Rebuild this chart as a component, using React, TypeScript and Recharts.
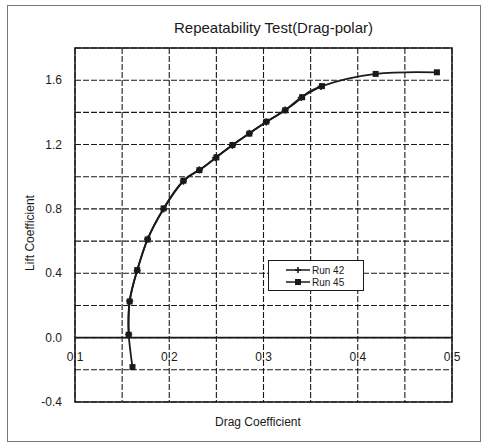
import { CartesianGrid, Line, LineChart, ReferenceArea, ReferenceLine, XAxis, YAxis } from "recharts";

// drag polar
const RUN42_CD = [0.157, 0.158, 0.166, 0.177, 0.194, 0.215, 0.232, 0.249, 0.267, 0.285, 0.303, 0.323, 0.340, 0.361];
const RUN42_CL = [0.02, 0.228, 0.417, 0.612, 0.8, 0.972, 1.043, 1.118, 1.195, 1.27, 1.34, 1.415, 1.492, 1.561];

const RUN45_CD = [0.161, 0.157, 0.158, 0.166, 0.177, 0.194, 0.215, 0.232, 0.25, 0.267, 0.285, 0.303, 0.323, 0.341, 0.362, 0.419, 0.484];
const RUN45_CL = [-0.183, 0.018, 0.225, 0.42, 0.61, 0.803, 0.975, 1.041, 1.12, 1.197, 1.268, 1.342, 1.413, 1.494, 1.563, 1.639, 1.649];

const X_TICKS = [0.1, 0.15, 0.2, 0.25, 0.3, 0.35, 0.4, 0.45, 0.5];
const Y_TICKS = [-0.4, -0.2, 0, 0.2, 0.4, 0.6, 0.8, 1.0, 1.2, 1.4, 1.6, 1.8];

const run42 = RUN42_CD.map((cd, i) => ({ cd, cl: RUN42_CL[i] }));
const run45 = RUN45_CD.map((cd, i) => ({ cd, cl: RUN45_CL[i] }));

const W = 481;
const H = 442;
const M = { top: 48, right: 29, bottom: 10, left: 35 };
const PLOT_H = H - M.top - M.bottom - 30;
const FONT = "'Liberation Sans', Arial, sans-serif";
const INK = "#1a1a1a";

function XTick({ x, y, payload }: any) {
  const v = payload.value;
  if (Math.abs(v * 10 - Math.round(v * 10)) > 1e-6) return null;
  // labels sit just under the CL = 0 line, not at the bottom of the frame
  const zeroUp = (PLOT_H * 0.4) / 2.2;
  return (
    <text x={x} y={y - zeroUp + 23} textAnchor="middle" fontSize={12} fontFamily={FONT} fill={INK}>
      {v.toFixed(1)}
    </text>
  );
}

function YTick({ x, y, payload }: any) {
  const v = payload.value;
  if (Math.round(v * 10) % 4 !== 0) return null;
  return (
    <text x={x} y={y + 4} textAnchor="end" fontSize={12} fontFamily={FONT} fill={INK}>
      {v.toFixed(1)}
    </text>
  );
}

const squareDot = (props: any) => {
  const { cx, cy, key } = props;
  return <rect key={key} x={cx - 3} y={cy - 3} width={6} height={6} fill={INK} />;
};

const crossDot = (props: any) => {
  const { cx, cy, key } = props;
  return (
    <g key={key}>
      <line x1={cx - 3.5} y1={cy} x2={cx + 3.5} y2={cy} stroke={INK} strokeWidth={1.6} />
      <line x1={cx} y1={cy - 3.5} x2={cx} y2={cy + 3.5} stroke={INK} strokeWidth={1.6} />
    </g>
  );
};

export default function App() {
  return (
    <div style={{ position: "absolute", left: 0, top: 0, width: W, height: H, background: "#fff", fontFamily: FONT }}>
      <div style={{ position: "absolute", left: 7, top: 5, width: 472, height: 435, border: "1px solid #777" }} />
      <div style={{ position: "absolute", left: 0, width: W, top: 19, textAlign: "center", paddingLeft: 66, boxSizing: "border-box", fontSize: 15, color: INK }}>
        Repeatability Test(Drag-polar)
      </div>
      <LineChart width={W} height={H} margin={M} style={{ position: "absolute", left: 0, top: 0 }}>
        <CartesianGrid stroke={INK} strokeDasharray="6 2" strokeWidth={1.1} />
        <XAxis
          type="number"
          dataKey="cd"
          domain={[0.1, 0.5]}
          ticks={X_TICKS}
          height={30}
          axisLine={false}
          tickLine={false}
          tickSize={0}
          tickMargin={0}
          tick={<XTick />}
          allowDuplicatedCategory={false}
        />
        <YAxis
          type="number"
          dataKey="cl"
          domain={[-0.4, 1.8]}
          ticks={Y_TICKS}
          width={40}
          axisLine={false}
          tickLine={false}
          tickSize={0}
          tickMargin={13}
          tick={<YTick />}
        />
        <ReferenceArea x1={0.1} x2={0.5} y1={-0.4} y2={1.8} fill="none" fillOpacity={0} stroke={INK} strokeWidth={1.5} />
        <ReferenceLine y={0} stroke={INK} strokeWidth={1.6} />
        <Line data={run45} dataKey="cl" type="natural" stroke={INK} strokeWidth={1.8} dot={squareDot} isAnimationActive={false} />
        <Line data={run42} dataKey="cl" type="natural" stroke={INK} strokeWidth={1.8} dot={crossDot} isAnimationActive={false} />
      </LineChart>
      <div
        style={{
          position: "absolute",
          left: 12,
          top: 233,
          transform: "translate(-50%, -50%) rotate(-90deg)",
          transformOrigin: "center",
          marginLeft: 18,
          fontSize: 12,
          color: INK,
          whiteSpace: "nowrap",
        }}
      >
        Lift Coefficient
      </div>
      <div style={{ position: "absolute", left: 215, top: 415, fontSize: 12, color: INK, whiteSpace: "nowrap" }}>Drag Coefficient</div>
      <div
        style={{
          position: "absolute",
          left: 268,
          top: 260,
          width: 96,
          height: 31,
          border: `1.5px solid ${INK}`,
          background: "#fff",
          boxSizing: "border-box",
          fontSize: 10,
          color: INK,
        }}
      >
        {[
          { name: "Run 42", dot: "cross" },
          { name: "Run 45", dot: "square" },
        ].map((item, i) => (
          <div key={item.name} style={{ position: "absolute", left: 16, top: 3 + i * 12, height: 12, display: "flex", alignItems: "center" }}>
            <svg width={26} height={12}>
              <line x1={1} y1={6} x2={25} y2={6} stroke={INK} strokeWidth={1.5} />
              {item.dot === "cross" ? (
                <g>
                  <line x1={10} y1={6} x2={16} y2={6} stroke={INK} strokeWidth={1.6} />
                  <line x1={13} y1={3} x2={13} y2={9} stroke={INK} strokeWidth={1.6} />
                </g>
              ) : (
                <rect x={10} y={3} width={6} height={6} fill={INK} />
              )}
            </svg>
            <span style={{ marginLeft: 1 }}>{item.name}</span>
          </div>
        ))}
      </div>
    </div>
  );
}
